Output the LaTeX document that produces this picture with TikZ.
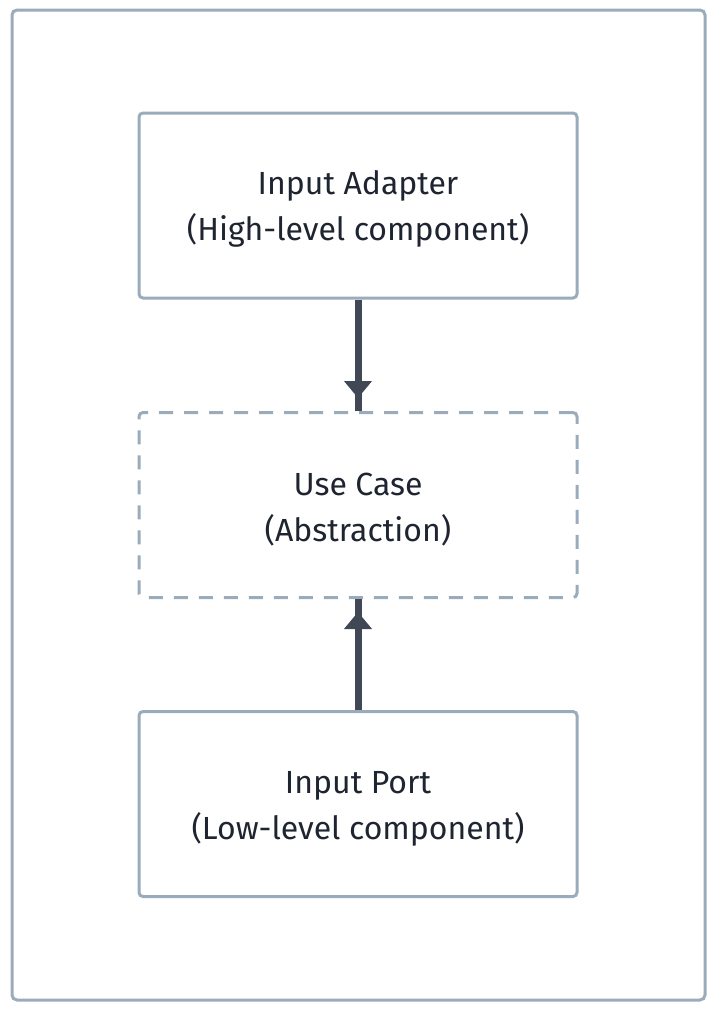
\documentclass[tikz,border=0pt]{standalone}
\usepackage{fontspec}
\setmainfont{Fira Sans}
\usetikzlibrary{arrows.meta}
\definecolor{frame}{HTML}{9AABBB}
\definecolor{arr}{HTML}{404856}
\definecolor{txt}{HTML}{1E2530}
\newcommand{\toppad}{\rule{0pt}{31pt}}
\tikzset{
  x=1pt,y=-1pt,
  box/.style={draw=frame,line width=3pt,rounded corners=4pt,minimum width=438pt,minimum height=185pt,align=center,font=\fontsize{32}{46}\selectfont,text=txt},
  dbox/.style={box,dash pattern=on 14pt off 11pt},
  shaft/.style={draw=arr,line width=7pt},
  link/.style={draw=arr,line width=7pt,shorten >=13pt,-{Triangle[width=27pt,length=17pt]}}
}
\begin{document}
\begin{tikzpicture}
\useasboundingbox (0,0) rectangle (717,1013);
\draw[frame,line width=3pt,rounded corners=5pt] (12,10) rectangle (705,1000);
\node[box] (adapter) at (358,205.5) {\toppad Input Adapter\\(High-level component)};
\node[dbox] (usecase) at (358,505) {\toppad Use Case\\(Abstraction)};
\node[box] (port) at (358,804) {\toppad Input Port\\(Low-level component)};
\draw[shaft] (adapter.south) -- (usecase.north);
\draw[shaft] (port.north) -- (usecase.south);
\draw[link] (adapter.south) -- (usecase.north);
\draw[link] (port.north) -- (usecase.south);
\end{tikzpicture}
\end{document}
